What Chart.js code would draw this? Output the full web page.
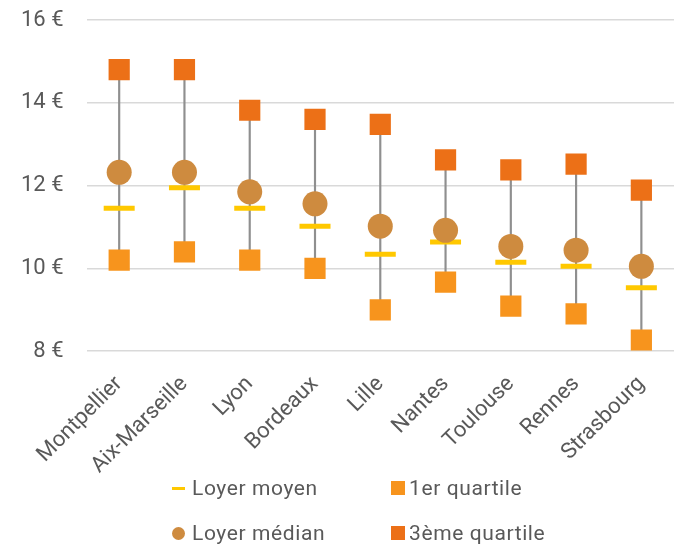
<!DOCTYPE html>
<html>
<head>
<meta charset="utf-8">
<script src="https://cdn.jsdelivr.net/npm/chart.js@4.4.0/dist/chart.umd.min.js"></script>
<style>
  body { margin:0; background:#fff; font-family: Roboto, "Noto Sans", sans-serif; }
  #wrap { position:relative; width:681px; height:545px; }
  #legend { position:absolute; left:172px; top:474px; display:grid; grid-template-columns: 219px 200px; row-gap:17px; }
  .item { display:flex; align-items:center; font-size:21px; color:#595959; height:28px; letter-spacing:0.6px; }
  .mk { display:inline-block; margin-right:6px; }
</style>
</head>
<body>
<div id="wrap">
  <canvas id="c" width="681" height="545"></canvas>
  <div id="legend"></div>
</div>
<script>
const villes = ['Montpellier','Aix-Marseille','Lyon','Bordeaux','Lille','Nantes','Toulouse','Rennes','Strasbourg'];
const loyerMoyen  = [11.45, 11.95, 11.45, 11.02, 10.34, 10.64, 10.15, 10.05, 9.53];
const loyerMedian = [12.32, 12.32, 11.85, 11.56, 11.02, 10.92, 10.53, 10.44, 10.05];
const quartile1   = [10.2, 10.4, 10.2, 10.0, 9.0, 9.67, 9.09, 8.9, 8.27];
const quartile3   = [14.8, 14.8, 13.82, 13.6, 13.48, 12.62, 12.38, 12.52, 11.89];

const cMoyen = '#FFC800', cMedian = '#CE8B3F', cQ1 = '#F7941D', cQ3 = '#EC7017';

function pts(name, data, style, radius, color, border) {
  return {
    type:'line', label:name, data:data, showLine:false,
    pointStyle:style, pointRadius:radius, pointHoverRadius:radius,
    pointBackgroundColor:color, pointBorderColor:color, pointBorderWidth:border
  };
}

// pas de marge automatique autour des axes, on place la zone a la main
function noPad(scale) {
  scale.paddingTop = 0; scale.paddingBottom = 0;
  scale.paddingLeft = 0; scale.paddingRight = 0;
}

const chart = new Chart(document.getElementById('c'), {
  type:'line',
  data:{
    labels:villes,
    datasets:[
      {type:'bar', label:'ecart', data:quartile1.map((v,i)=>[v, quartile3[i]]),
       backgroundColor:'#8F8F8F', barThickness:1.5, order:10},
      Object.assign(pts('Loyer moyen', loyerMoyen, 'line', 15.5, cMoyen, 5), {order:4}),
      Object.assign(pts('1er quartile', quartile1, 'rect', 15, cQ1, 0), {order:3}),
      Object.assign(pts('3ème quartile', quartile3, 'rect', 15, cQ3, 0), {order:2}),
      Object.assign(pts('Loyer médian', loyerMedian, 'circle', 12.5, cMedian, 0), {order:1})
    ]
  },
  options:{
    responsive:false,
    animation:false,
    layout:{autoPadding:false, padding:{top:20, right:7, left:-2, bottom:54}},
    plugins:{legend:{display:false}, tooltip:{enabled:false}},
    scales:{
      x:{
        offset:true,
        afterFit:noPad,
        grid:{display:false},
        border:{display:false},
        ticks:{color:'#595959', font:{size:22, family:'Roboto'}, maxRotation:45, minRotation:45, padding:12}
      },
      y:{
        min:8, max:16,
        afterFit:noPad,
        grid:{color:'#D9D9D9', lineWidth:1.5, drawTicks:false},
        border:{display:false},
        ticks:{stepSize:2, color:'#595959', font:{size:22, family:'Roboto'}, padding:23,
               callback:v => v + ' €'}
      }
    }
  }
});

// legende HTML, deux colonnes comme l'original
const leg = [
  ['Loyer moyen', '<span class="mk" style="width:13px;height:3px;margin-right:7px;background:'+cMoyen+'"></span>'],
  ['1er quartile', '<span class="mk" style="width:14px;height:14px;margin-right:4px;background:'+cQ1+'"></span>'],
  ['Loyer médian', '<span class="mk" style="width:13px;height:13px;margin-right:7px;border-radius:50%;background:'+cMedian+'"></span>'],
  ['3ème quartile', '<span class="mk" style="width:14px;height:14px;margin-right:4px;background:'+cQ3+'"></span>']
];
document.getElementById('legend').innerHTML = leg.map(l => '<div class="item">'+l[1]+l[0]+'</div>').join('');
</script>
</body>
</html>
